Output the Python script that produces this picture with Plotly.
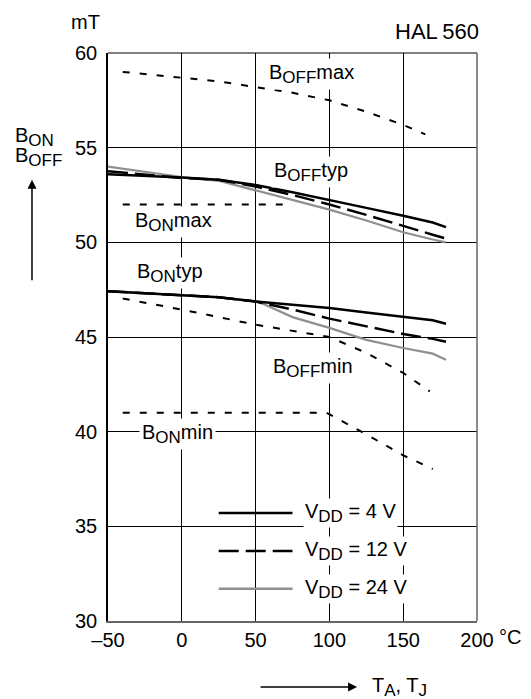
import plotly.graph_objects as go

FONT = "Liberation Sans, Arial, sans-serif"

# ---- data ----
x_boffmax = [-40, 0, 25, 50, 75, 100, 125, 150, 165]
y_boffmax = [59.0, 58.7, 58.5, 58.2, 57.9, 57.5, 56.9, 56.2, 55.7]

x_bonmax = [-40, 72]
y_bonmax = [52.0, 52.0]

x_bofftyp = [-50, 0, 25, 50, 75, 100, 125, 150, 170, 179]
y_bofftyp_4v = [53.6, 53.43, 53.3, 53.03, 52.65, 52.25, 51.82, 51.4, 51.05, 50.8]
y_bofftyp_12v = [53.75, 53.4, 53.3, 52.95, 52.5, 52.0, 51.45, 50.85, 50.4, 50.2]
y_bofftyp_24v = [54.0, 53.45, 53.25, 52.75, 52.25, 51.73, 51.15, 50.53, 50.15, 50.0]

x_bontyp = [-50, 0, 25, 50, 75, 100, 125, 150, 170, 179]
y_bontyp_4v = [47.42, 47.23, 47.1, 46.88, 46.7, 46.53, 46.3, 46.05, 45.88, 45.7]
y_bontyp_12v = [47.42, 47.23, 47.1, 46.88, 46.45, 45.97, 45.55, 45.16, 44.9, 44.75]
x_bontyp_24v = [-50, 0, 25, 50, 55, 75, 100, 125, 150, 170, 179]
y_bontyp_24v = [47.42, 47.23, 47.1, 46.88, 46.76, 46.05, 45.48, 44.85, 44.42, 44.12, 43.8]

x_boffmin = [-40, 0, 50, 100, 125, 150, 168]
y_boffmin = [47.03, 46.45, 45.65, 45.0, 44.16, 43.1, 42.13]

x_bonmin = [-40, 98, 125, 150, 170]
y_bonmin = [41.0, 41.0, 39.86, 38.75, 38.03]

x_ticks = [-50, 0, 50, 100, 150, 200]
x_ticktext = ["\u201350", "0", "50", "100", "150", "200"]
y_ticks = [30, 35, 40, 45, 50, 55, 60]

def sub(main, s):
    return f"{main}<sub><span style='font-size:17px'>{s}</span></sub>"

legend_labels = [sub("V", "DD") + " = 4 V", sub("V", "DD") + " = 12 V", sub("V", "DD") + " = 24 V"]
legend_y = [35.7, 33.7, 31.7]

# ---- styles ----
BLACK = "black"
GRAY = "#8f8f8f"
SHORT = "7px,10px"
LONG = "20px,7px"
FS = 20

fig = go.Figure()

def add(x, y, color, dash, width):
    fig.add_trace(go.Scatter(x=x, y=y, mode="lines",
                             line=dict(color=color, dash=dash, width=width),
                             showlegend=False, hoverinfo="skip"))

add(x_boffmax, y_boffmax, BLACK, SHORT, 2)
add(x_bonmax, y_bonmax, BLACK, SHORT, 2)
add(x_boffmin, y_boffmin, BLACK, SHORT, 2)
add(x_bonmin, y_bonmin, BLACK, SHORT, 2)

add(x_bofftyp, y_bofftyp_24v, GRAY, "solid", 2.2)
add(x_bofftyp, y_bofftyp_12v, BLACK, LONG, 2.5)
add(x_bofftyp, y_bofftyp_4v, BLACK, "solid", 2.5)

add(x_bontyp_24v, y_bontyp_24v, GRAY, "solid", 2.2)
add(x_bontyp, y_bontyp_12v, BLACK, LONG, 2.5)
add(x_bontyp, y_bontyp_4v, BLACK, "solid", 2.5)

# legend keys
leg_styles = [(BLACK, "solid"), (BLACK, LONG), (GRAY, "solid")]
for (c, d), ly, lab in zip(leg_styles, legend_y, legend_labels):
    fig.add_shape(type="line", xref="x", yref="y", x0=25, x1=75, y0=ly, y1=ly,
                  line=dict(color=c, dash=d, width=2.5))
    fig.add_annotation(x=82, y=ly, xref="x", yref="y", text=lab, showarrow=False,
                       xanchor="left", yanchor="middle", bgcolor="white",
                       font=dict(family=FONT, size=FS, color="black"))

# curve labels
labels = [
    (57.0, 58.9, sub("B", "OFF") + "max"),
    (60.5, 53.7, sub("B", "OFF") + "typ"),
    (-33.8, 51.1, sub("B", "ON") + "max"),
    (-32.5, 48.4, sub("B", "ON") + "typ"),
    (59.7, 43.35, sub("B", "OFF") + "min"),
    (-29.1, 39.9, sub("B", "ON") + "min"),
]
for lx, ly, t in labels:
    fig.add_annotation(x=lx, y=ly, xref="x", yref="y", text=t, showarrow=False,
                       xanchor="left", yanchor="middle", bgcolor="white",
                       borderpad=2,
                       font=dict(family=FONT, size=FS, color="black"))

# frame top/right
fig.add_shape(type="line", xref="paper", yref="paper", x0=0, x1=1, y0=1, y1=1,
              line=dict(color="black", width=1))
fig.add_shape(type="line", xref="paper", yref="paper", x0=1, x1=1, y0=0, y1=1,
              line=dict(color="#666666", width=1.5))

# outer texts
fig.add_annotation(x=-0.062, y=1.054, xref="paper", yref="paper", text="mT",
                   showarrow=False, xanchor="center", yanchor="middle",
                   font=dict(family=FONT, size=FS, color="black"))
fig.add_annotation(x=1.011, y=1.037, xref="paper", yref="paper", text="HAL\u2009560",
                   showarrow=False, xanchor="right", yanchor="middle",
                   font=dict(family=FONT, size=22, color="black"))
fig.add_annotation(x=-0.2575, y=0.8525, xref="paper", yref="paper",
                   text=sub("B", "ON"), align="left",
                   showarrow=False, xanchor="left", yanchor="middle",
                   font=dict(family=FONT, size=FS, color="black"))
fig.add_annotation(x=-0.2575, y=0.8172, xref="paper", yref="paper",
                   text=sub("B", "OFF"), align="left",
                   showarrow=False, xanchor="left", yanchor="middle",
                   font=dict(family=FONT, size=FS, color="black"))
fig.add_annotation(x=-0.206, y=0.777, xref="paper", yref="paper", text="",
                   showarrow=True, ax=0, ay=102, arrowhead=2, arrowsize=1.2,
                   arrowwidth=1.5, arrowcolor="black")
fig.add_annotation(x=0.675, y=-0.1163, xref="paper", yref="paper", text="",
                   showarrow=True, ax=-98, ay=0, arrowhead=2, arrowsize=1.2,
                   arrowwidth=1.5, arrowcolor="black")
fig.add_annotation(x=0.71, y=-0.1163, xref="paper", yref="paper",
                   text=sub("T", "A") + ", " + sub("T", "J"),
                   showarrow=False, xanchor="left", yanchor="middle",
                   font=dict(family=FONT, size=FS, color="black"))
fig.add_annotation(x=1.054, y=-0.028, xref="paper", yref="paper", text="\u00b0C",
                   showarrow=False, xanchor="left", yanchor="middle",
                   font=dict(family=FONT, size=FS, color="black"))

fig.update_layout(
    width=523, height=691,
    margin=dict(l=100, r=54, t=45, b=78),
    paper_bgcolor="white", plot_bgcolor="white",
    font=dict(family=FONT, size=FS, color="black"),
    xaxis=dict(range=[-50, 200], tickvals=x_ticks, ticktext=x_ticktext,
               showgrid=True, gridcolor="black", gridwidth=1,
               showline=True, linecolor="#666666", linewidth=1.5,
               zeroline=False, ticks="", ticklabelstandoff=0),
    yaxis=dict(range=[30, 60], tickvals=y_ticks,
               showgrid=True, gridcolor="black", gridwidth=1,
               showline=True, linecolor="black", linewidth=1.5,
               zeroline=False, ticks="", ticklabelstandoff=5),
)

fig.write_html("out.html")
